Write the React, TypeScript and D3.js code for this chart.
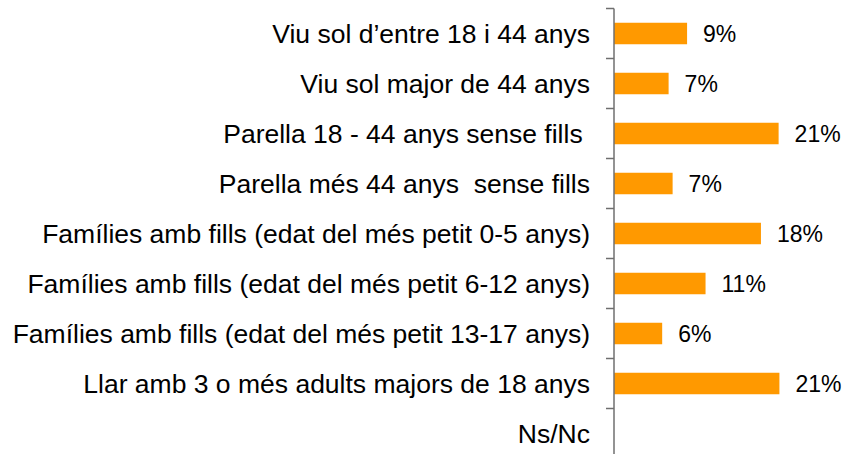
import * as d3 from "d3";
import {useEffect, useRef} from "react";

// household types (top to bottom)
const categories = [
    "Viu sol d\u2019entre 18 i 44 anys",
    "Viu sol major de 44 anys",
    "Parella 18 - 44 anys sense fills ",
    "Parella més 44 anys  sense fills",
    "Famílies amb fills (edat del més petit 0-5 anys)",
    "Famílies amb fills (edat del més petit 6-12 anys)",
    "Famílies amb fills (edat del més petit 13-17 anys)",
    "Llar amb 3 o més adults majors de 18 anys",
    "Ns/Nc",
];

// share of households, in %
const values = [9.1, 6.8, 20.5, 7.3, 18.3, 11.4, 6.0, 20.6, 0];

// labels printed next to the bars
const valueLabels = ["9%", "7%", "21%", "7%", "18%", "11%", "6%", "21%", ""];

export default function App() {
    const ref = useRef(null);

    useEffect(() => {
        document.body.style.margin = "0";

        const width = 848;
        const height = 454;
        const axisX = 614;
        const font = "'Liberation Sans', Arial, sans-serif";

        const svg = d3.select(ref.current);
        svg.attr("width", width).attr("height", height);
        svg.selectAll("*").remove();

        // x scale: percent -> pixels
        const x = d3.scaleLinear().domain([0, 100]).range([axisX, axisX + 803]);

        // y scale: one band per category
        const y = d3.scaleBand().domain(d3.range(categories.length)).range([8.5, 458.5]);
        const barH = 21.5;

        // bars
        svg.append("g")
            .selectAll("rect")
            .data(values)
            .join("rect")
            .attr("x", x(0))
            .attr("y", (_, i) => y(i) + y.bandwidth() / 2 - barH / 2)
            .attr("width", d => x(d) - x(0))
            .attr("height", barH)
            .attr("fill", "#FF9900");

        // value labels
        svg.append("g")
            .selectAll("text")
            .data(values)
            .join("text")
            .attr("x", d => x(d) + 16)
            .attr("y", (_, i) => y(i) + y.bandwidth() / 2)
            .attr("dy", "0.35em")
            .attr("font-family", font)
            .attr("font-size", 23)
            .attr("fill", "#000")
            .text((_, i) => valueLabels[i]);

        // category labels
        svg.append("g")
            .selectAll("text")
            .data(categories)
            .join("text")
            .attr("x", 590)
            .attr("y", (_, i) => y(i) + y.bandwidth() / 2)
            .attr("dy", "0.35em")
            .attr("text-anchor", "end")
            .attr("font-family", font)
            .attr("font-size", 26.5)
            .attr("fill", "#000")
            .style("white-space", "pre")
            .text(d => d);

        // axis line and ticks at band edges
        const axis = svg.append("g").attr("stroke", "#6f6f6f").attr("stroke-width", 1.5);
        axis.append("line")
            .attr("x1", axisX).attr("x2", axisX)
            .attr("y1", y.range()[0]).attr("y2", y.range()[1]);
        axis.selectAll("line.tick")
            .data(d3.range(categories.length + 1))
            .join("line")
            .attr("class", "tick")
            .attr("x1", axisX - 8).attr("x2", axisX)
            .attr("y1", i => 8.5 + i * y.step())
            .attr("y2", i => 8.5 + i * y.step());

    }, []);

    return <svg ref={ref}></svg>;
}
